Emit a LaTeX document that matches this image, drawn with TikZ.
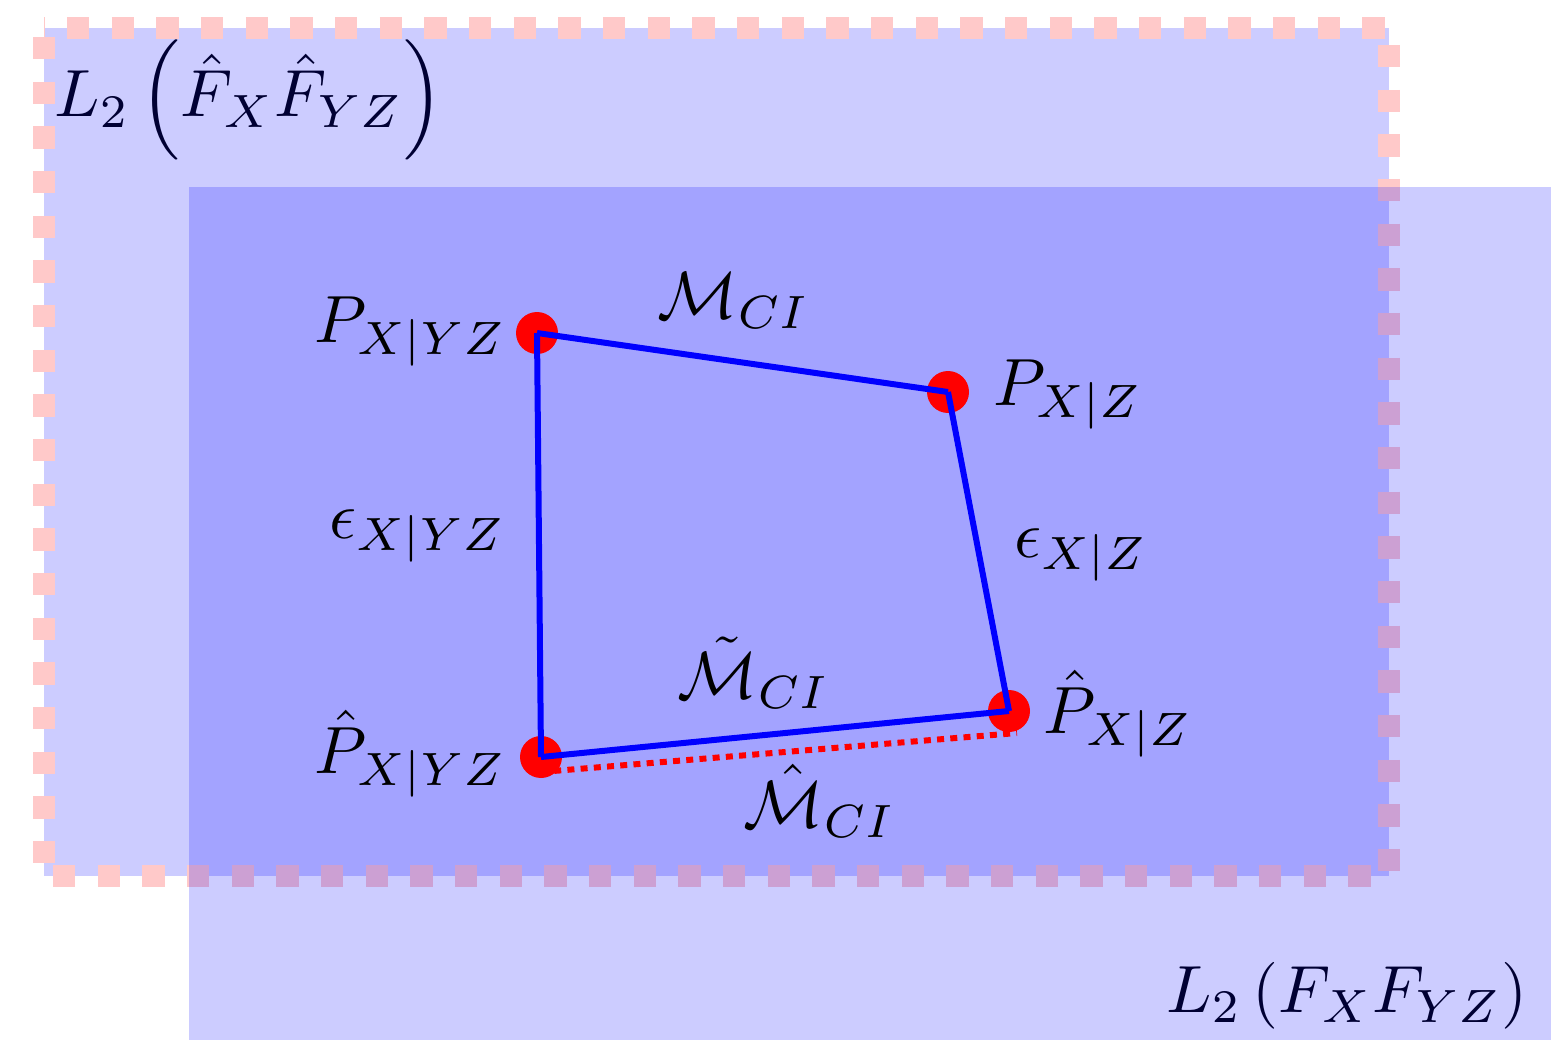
\documentclass[tikz,border=0pt]{standalone}
\usepackage{amsmath}
\begin{document}
\begin{tikzpicture}[x=0.02cm,y=-0.02cm,
  region/.style={fill=blue, fill opacity=0.2},
  border/.style={draw=red!21, line width=0.44cm, dash pattern=on 0.4467cm off 0.4467cm},
  edgeline/.style={draw=blue, line width=0.12cm},
  estline/.style={draw=red, line width=0.12cm, dash pattern=on 0.14cm off 0.125cm},
  pt/.style={circle, fill=red, minimum size=0.84cm, inner sep=0pt},
  lbl/.style={scale=3.8, inner sep=0pt, anchor=base west},
  spacelbl/.style={lbl, text={rgb,255:red,0;green,0;blue,51}}]
\useasboundingbox (0,0) rectangle (1551,1040);
% outer region L2(hat F)
\fill[region] (44,28) rectangle (1389,876);
\draw[border, dash phase=0.4333cm] (44,28) -- (1389,28);
\draw[border, dash phase=0.7133cm] (44,28) -- (44,876);
\draw[border, dash phase=0.5533cm] (1389,28) -- (1389,876);
\draw[border, dash phase=0.7133cm] (44,876) -- (1389,876);
% region L2(F)
\fill[region] (189,187) rectangle (1551,1040);
% region labels
\node[spacelbl] (lhat) at (53,117) {$L_2\left(\hat{F}_X\hat{F}_{YZ}\right)$};
\node[spacelbl] (ltrue) at (1165,1012) {$L_2\left(F_XF_{YZ}\right)$};
% estimated line
\coordinate (eD) at (541,772);
\coordinate (eC) at (1017,733);
\draw[estline] (eD) -- (eC);
% points
\node[pt] (pA) at (537,333) {};
\node[pt] (pB) at (948,392) {};
\node[pt] (pC) at (1009,711) {};
\node[pt] (pD) at (541,757) {};
% edges
\draw[edgeline] (pA.center) -- (pB.center);
\draw[edgeline] (pB.center) -- (pC.center);
\draw[edgeline] (pC.center) -- (pD.center);
\draw[edgeline] (pD.center) -- (pA.center);
% labels
\node[lbl] (tA) at (313,342) {$P_{X|YZ}$};
\node[lbl] (tAB) at (656,318) {$\mathcal{M}_{CI}$};
\node[lbl] (tB) at (992,405) {$P_{X|Z}$};
\node[lbl] (tAD) at (328,538) {$\epsilon_{X|YZ}$};
\node[lbl] (tBC) at (1013,557) {$\epsilon_{X|Z}$};
\node[lbl] (tCD) at (676,698) {$\tilde{\mathcal{M}}_{CI}$};
\node[lbl] (tC) at (1042,733) {$\hat{P}_{X|Z}$};
\node[lbl] (tD) at (313,773) {$\hat{P}_{X|YZ}$};
\node[lbl] (tE) at (742,827) {$\hat{\mathcal{M}}_{CI}$};
\end{tikzpicture}
\end{document}
